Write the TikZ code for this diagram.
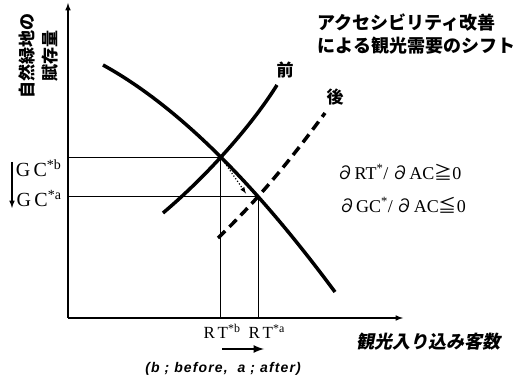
\documentclass[tikz,border=0pt]{standalone}
\usepackage{fontspec}
\setmainfont{Liberation Serif}
\setsansfont{Liberation Sans}
\newfontfamily\cjk{Noto Sans CJK JP}
\newfontfamily\cjksl{Noto Sans CJK JP}[FakeSlant=0.2]
\usetikzlibrary{intersections,positioning,arrows,calc}

\tikzset{
  curve/.style={line width=3.5pt},
  guide/.style={line width=0.8pt},
  axis/.style={line width=1.5pt,-latex},
  shiftarrow/.style={line width=2.5pt,-latex},
  jlabel/.style={font=\cjk\bfseries\fontsize{17}{23}\selectfont},
  serlabel/.style={font=\fontsize{17}{17}\selectfont},
}

\begin{document}
\begin{tikzpicture}[x=1pt,y=1pt]
\useasboundingbox (0,0) rectangle (518,382);
% axes
\coordinate (O) at (68,64);
\coordinate (Ytop) at (68,379);
\coordinate (Xend) at (403,64);
\draw[axis] (O) -- (Ytop);
\draw[axis] (O) -- (Xend);

% demand, before and after curves
\draw[curve,name path=demand] (103,317) .. controls (193,267.5) and (275,171) .. (335,90);
\draw[curve,name path=before] (163,169) .. controls (208,207) and (252,257) .. (277,297);
\draw[curve,dash pattern=on 10pt off 6pt,name path=after] (218,144) .. controls (263,187) and (297,231) .. (325,269);
\path[name intersections={of=demand and before,by=Eb}];
\path[name intersections={of=demand and after,by=Ea}];

% guide lines
\draw[guide] (O |- Eb) -- (Eb) -- (Eb |- O);
\draw[guide] (O |- Ea) -- (Ea) -- (Ea |- O);
\coordinate (dotEnd) at ($(Ea)+(-12,3)$);
\draw[dotted,line width=1.2pt,-latex] (Eb) -- (dotEnd);

% labels
\node[jlabel] (lblBefore) at (285,312) {前};
\node[jlabel] (lblAfter) at (335,285) {後};
\node[jlabel,font=\cjk\bfseries\fontsize{18}{23}\selectfont,align=left,anchor=north west] (title) at (314,372) {アクセシビリティ改善\\による観光需要のシフト};
\node[jlabel,rotate=90,align=center] (ylab) at (38,326) {自然緑地の\\賦存量};
\node[font=\cjksl\bfseries\fontsize{18}{18}\selectfont] (xlab) at (428,40) {観光入り込み客数};

\node[serlabel,font=\fontsize{18}{18}\selectfont] (dRT) at (399,210) {{\cjk ∂}RT\textsuperscript{*}/\,{\cjk ∂}AC{\cjk ≧}0};
\node[serlabel,font=\fontsize{18}{18}\selectfont] (dGC) at (402,177) {{\cjk ∂}GC\textsuperscript{*}/\,{\cjk ∂}AC{\cjk ≦}0};

\node[font=\fontsize{20}{20}\selectfont,anchor=base east] (GCb) at (65,205) {G\,C\textsuperscript{*b}};
\node[font=\fontsize{20}{20}\selectfont,anchor=base east] (GCa) at (65,175) {G\,C\textsuperscript{*a}};
\coordinate (gcTop) at (12,220);
\coordinate (gcBot) at (12,174);
\draw[shiftarrow,line width=1.5pt] (gcTop) -- (gcBot);

\node[serlabel,anchor=base west] (RTb) at (200,43) {R\,T\textsuperscript{*b}};
\node[serlabel,anchor=base west] (RTa) at (245,43) {R\,T\textsuperscript{*a}};
\coordinate (rtLeft) at (222,33);
\coordinate (rtRight) at (264,33);
\draw[shiftarrow] (rtLeft) -- (rtRight);

\node[font=\sffamily\bfseries\itshape\fontsize{14}{14}\selectfont\addfontfeature{LetterSpace=8}] (note) at (223,13) {(b ; before,\ \ a ; after)};
\end{tikzpicture}
\end{document}
